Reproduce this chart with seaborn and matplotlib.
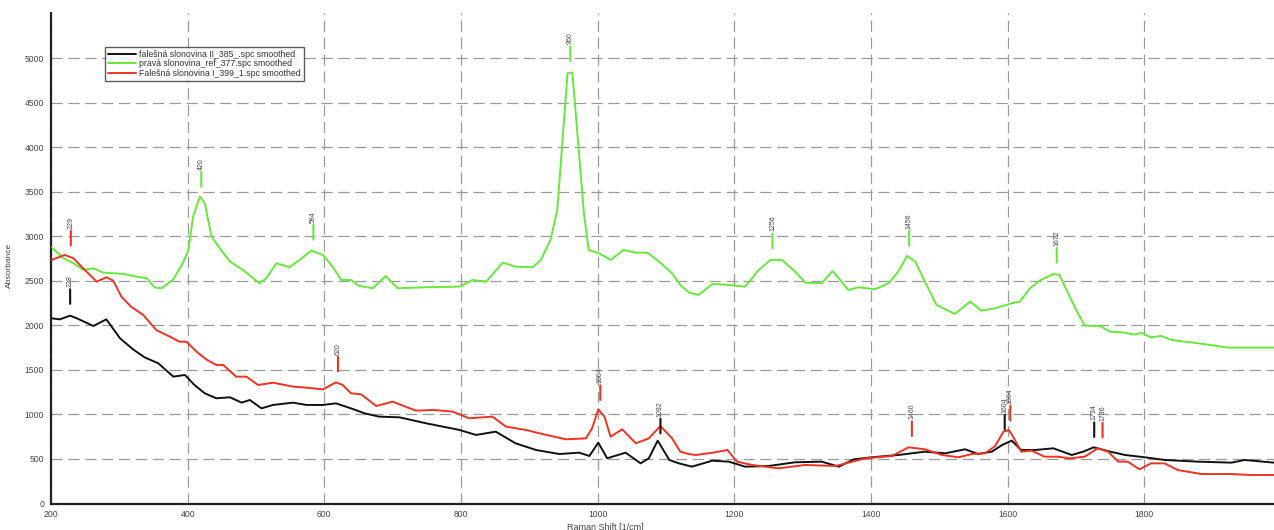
import numpy as np
import pandas as pd
import matplotlib
matplotlib.use("Agg")
import matplotlib.pyplot as plt
import matplotlib.transforms as mtransforms
import seaborn as sns

# ---------------- data ----------------
black_name = "falešná slonovina II_385_.spc smoothed"
green_name = "pravá slonovina_ref_377.spc smoothed"
red_name = "Falešná slonovina I_399_1.spc smoothed"

green_x = [201, 218, 233, 247, 262, 276, 306, 325, 340, 352, 362, 379, 393, 401, 408, 418, 425, 435,
           447, 462, 481, 505, 515, 530, 549, 564, 581, 598, 612, 625, 639, 651, 671, 690, 707, 749,
           798, 817, 837, 861, 880, 905, 917, 931, 941, 948, 956, 963, 970, 980, 987, 1002, 1019,
           1038, 1056, 1073, 1090, 1109, 1121, 1134, 1148, 1168, 1192, 1216, 1236, 1253, 1270, 1289,
           1304, 1328, 1344, 1355, 1367, 1382, 1406, 1426, 1440, 1453, 1465, 1479, 1496, 1523, 1545,
           1562, 1582, 1606, 1618, 1633, 1647, 1667, 1676, 1691, 1703, 1713, 1735, 1750, 1772, 1786,
           1796, 1810, 1825, 1840, 1879, 1923, 1990]
green_y = [2878, 2755, 2699, 2624, 2642, 2594, 2579, 2549, 2530, 2425, 2418, 2519, 2699, 2848, 3223,
           3448, 3373, 2998, 2867, 2717, 2624, 2474, 2530, 2699, 2654, 2736, 2841, 2792, 2661, 2511,
           2511, 2444, 2418, 2556, 2418, 2429, 2436, 2511, 2492, 2706, 2661, 2654, 2736, 2961, 3298,
           4009, 4833, 4841, 4197, 3260, 2848, 2811, 2736, 2848, 2818, 2818, 2717, 2586, 2455, 2369,
           2343, 2466, 2455, 2436, 2624, 2736, 2736, 2605, 2481, 2474, 2612, 2511, 2399, 2429, 2406,
           2474, 2605, 2781, 2717, 2492, 2230, 2129, 2268, 2167, 2193, 2249, 2268, 2418, 2504, 2579,
           2567, 2324, 2137, 1998, 1994, 1931, 1919, 1897, 1919, 1867, 1882, 1837, 1800, 1751, 1751]

red_x = [201, 220, 233, 247, 267, 281, 291, 303, 317, 335, 354, 374, 388, 398, 413, 427, 442, 452,
         471, 486, 503, 525, 554, 574, 598, 617, 627, 639, 654, 676, 700, 734, 759, 788, 812, 846,
         866, 895, 925, 954, 983, 992, 1001, 1010, 1019, 1036, 1056, 1075, 1092, 1109, 1121, 1133,
         1144, 1168, 1190, 1204, 1226, 1265, 1304, 1348, 1392, 1431, 1455, 1479, 1504, 1528, 1548,
         1567, 1582, 1594, 1602, 1608, 1620, 1635, 1654, 1674, 1691, 1713, 1732, 1747, 1762, 1776,
         1793, 1810, 1830, 1849, 1884, 1928, 1957, 1990]
red_y = [2736, 2792, 2755, 2642, 2492, 2541, 2504, 2324, 2212, 2118, 1949, 1874, 1818, 1818, 1706,
         1620, 1556, 1556, 1425, 1425, 1331, 1357, 1313, 1301, 1282, 1361, 1331, 1238, 1226, 1095,
         1144, 1043, 1051, 1032, 957, 976, 863, 826, 770, 721, 732, 845, 1058, 976, 751, 833, 676,
         732, 871, 732, 583, 556, 545, 570, 601, 470, 433, 395, 433, 421, 507, 534, 631, 609, 545,
         519, 556, 564, 646, 807, 826, 751, 583, 594, 526, 526, 507, 526, 620, 583, 470, 470, 384,
         451, 451, 376, 331, 331, 320, 320]

black_x = [201, 213, 228, 238, 262, 281, 301, 320, 337, 357, 379, 396, 410, 425, 442, 462, 479, 491,
           508, 525, 554, 574, 598, 617, 639, 659, 680, 710, 749, 798, 822, 851, 880, 910, 944, 973,
           988, 1001, 1014, 1041, 1063, 1075, 1088, 1105, 1119, 1138, 1168, 1192, 1216, 1250, 1289,
           1328, 1353, 1375, 1401, 1440, 1479, 1509, 1538, 1557, 1577, 1592, 1606, 1620, 1640, 1667,
           1694, 1711, 1726, 1750, 1772, 1801, 1830, 1879, 1928, 1947, 1990]
black_y = [2080, 2069, 2110, 2080, 1994, 2069, 1856, 1732, 1642, 1575, 1425, 1444, 1331, 1238, 1182,
           1193, 1133, 1163, 1069, 1107, 1133, 1107, 1107, 1125, 1069, 1013, 976, 968, 901, 826, 770,
           807, 676, 601, 556, 571, 534, 684, 508, 571, 451, 508, 706, 489, 451, 414, 481, 470, 414,
           421, 463, 470, 414, 496, 519, 545, 582, 564, 609, 556, 582, 657, 706, 601, 601, 620, 545,
           583, 631, 583, 545, 519, 489, 470, 459, 489, 459]

black_peaks = [228, 1092, 1604, 1734]
green_peaks = [420, 584, 960, 1256, 1456, 1672]
red_peaks = [229, 620, 1004, 1460, 1604, 1736]

x_ticks = [200, 400, 600, 800, 1000, 1200, 1400, 1600, 1800]
y_ticks = [0, 500, 1000, 1500, 2000, 2500, 3000, 3500, 4000, 4500, 5000]

BLACK = "#111111"
GREEN = "#66E83C"
RED = "#EE3322"

# ---------------- figure ----------------
sns.set_style("white")
plt.rcParams["font.family"] = ["Liberation Sans", "DejaVu Sans"]

fig = plt.figure(figsize=(12.74, 5.30), dpi=100)
ax = fig.add_axes([51 / 1274, 26.5 / 530, 1223 / 1274, 490.5 / 530])

df_black = pd.DataFrame({"x": black_x, "y": black_y})
df_green = pd.DataFrame({"x": green_x, "y": green_y})
df_red = pd.DataFrame({"x": red_x, "y": red_y})

sns.lineplot(data=df_black, x="x", y="y", ax=ax, color=BLACK, lw=1.4, label=black_name, zorder=3)
sns.lineplot(data=df_green, x="x", y="y", ax=ax, color=GREEN, lw=1.4, label=green_name, zorder=3)
sns.lineplot(data=df_red, x="x", y="y", ax=ax, color=RED, lw=1.4, label=red_name, zorder=4)

ax.set_xlim(200, 1990)
ax.set_ylim(0, 5510)
ax.set_xticks(x_ticks)
ax.set_yticks(y_ticks)
ax.set_xticklabels([str(t) for t in x_ticks])
ax.set_yticklabels([str(t) for t in y_ticks])

ax.grid(True, color="#9a9a9a", linestyle=(0, (9, 4.5)), linewidth=0.9)
ax.set_axisbelow(True)

for s in ["top", "right"]:
    ax.spines[s].set_visible(False)
for s in ["left", "bottom"]:
    ax.spines[s].set_color("#222222")
    ax.spines[s].set_linewidth(1.6)

ax.tick_params(axis="both", direction="out", length=3, width=1.2, color="#222222",
               labelsize=6.2, labelcolor="#444444", pad=2)

ax.set_xlabel("Raman Shift [1/cm]", fontsize=6.5, color="#444444")
ax.xaxis.set_label_coords(0.453, -0.040)
ax.set_ylabel("Absorbance", fontsize=6, color="#444444")
ax.yaxis.set_label_coords(-0.031, 0.486)

# peak markers (horizontal shift in points so neighbouring labels stay apart)
label_shift = {("black", 1734): -3.5, ("red", 1736): 1.5, ("black", 1604): -4.0}

def mark(name, px_list, xs, ys, color):
    for p in px_list:
        dx = label_shift.get((name, p), 0.0)
        trans = mtransforms.offset_copy(ax.transData, fig=fig, x=dx, y=0, units="points")
        yv = float(np.interp(p, xs, ys))
        ax.annotate("", xy=(p, yv), xycoords=trans, xytext=(0, 19), textcoords="offset points",
                    arrowprops=dict(arrowstyle="-", color=color, lw=1.5, shrinkA=0, shrinkB=8.5),
                    zorder=5)
        ax.annotate(str(p), xy=(p, yv), xycoords=trans, xytext=(0, 20.5), textcoords="offset points",
                    rotation=90, ha="center", va="bottom", fontsize=5, color="#444444", zorder=5)

mark("black", black_peaks, black_x, black_y, BLACK)
mark("green", green_peaks, green_x, green_y, GREEN)
mark("red", red_peaks, red_x, red_y, RED)

leg = ax.legend(loc="upper left", bbox_to_anchor=(0.044, 0.931), borderaxespad=0,
                fontsize=6.3, frameon=True, fancybox=False, handlelength=3.2,
                handletextpad=0.4, labelspacing=0.05, borderpad=0.35, edgecolor="#333333")
leg.get_frame().set_linewidth(1.0)
for t in leg.get_texts():
    t.set_color("#333333")

fig.savefig("out.png", dpi=100)
